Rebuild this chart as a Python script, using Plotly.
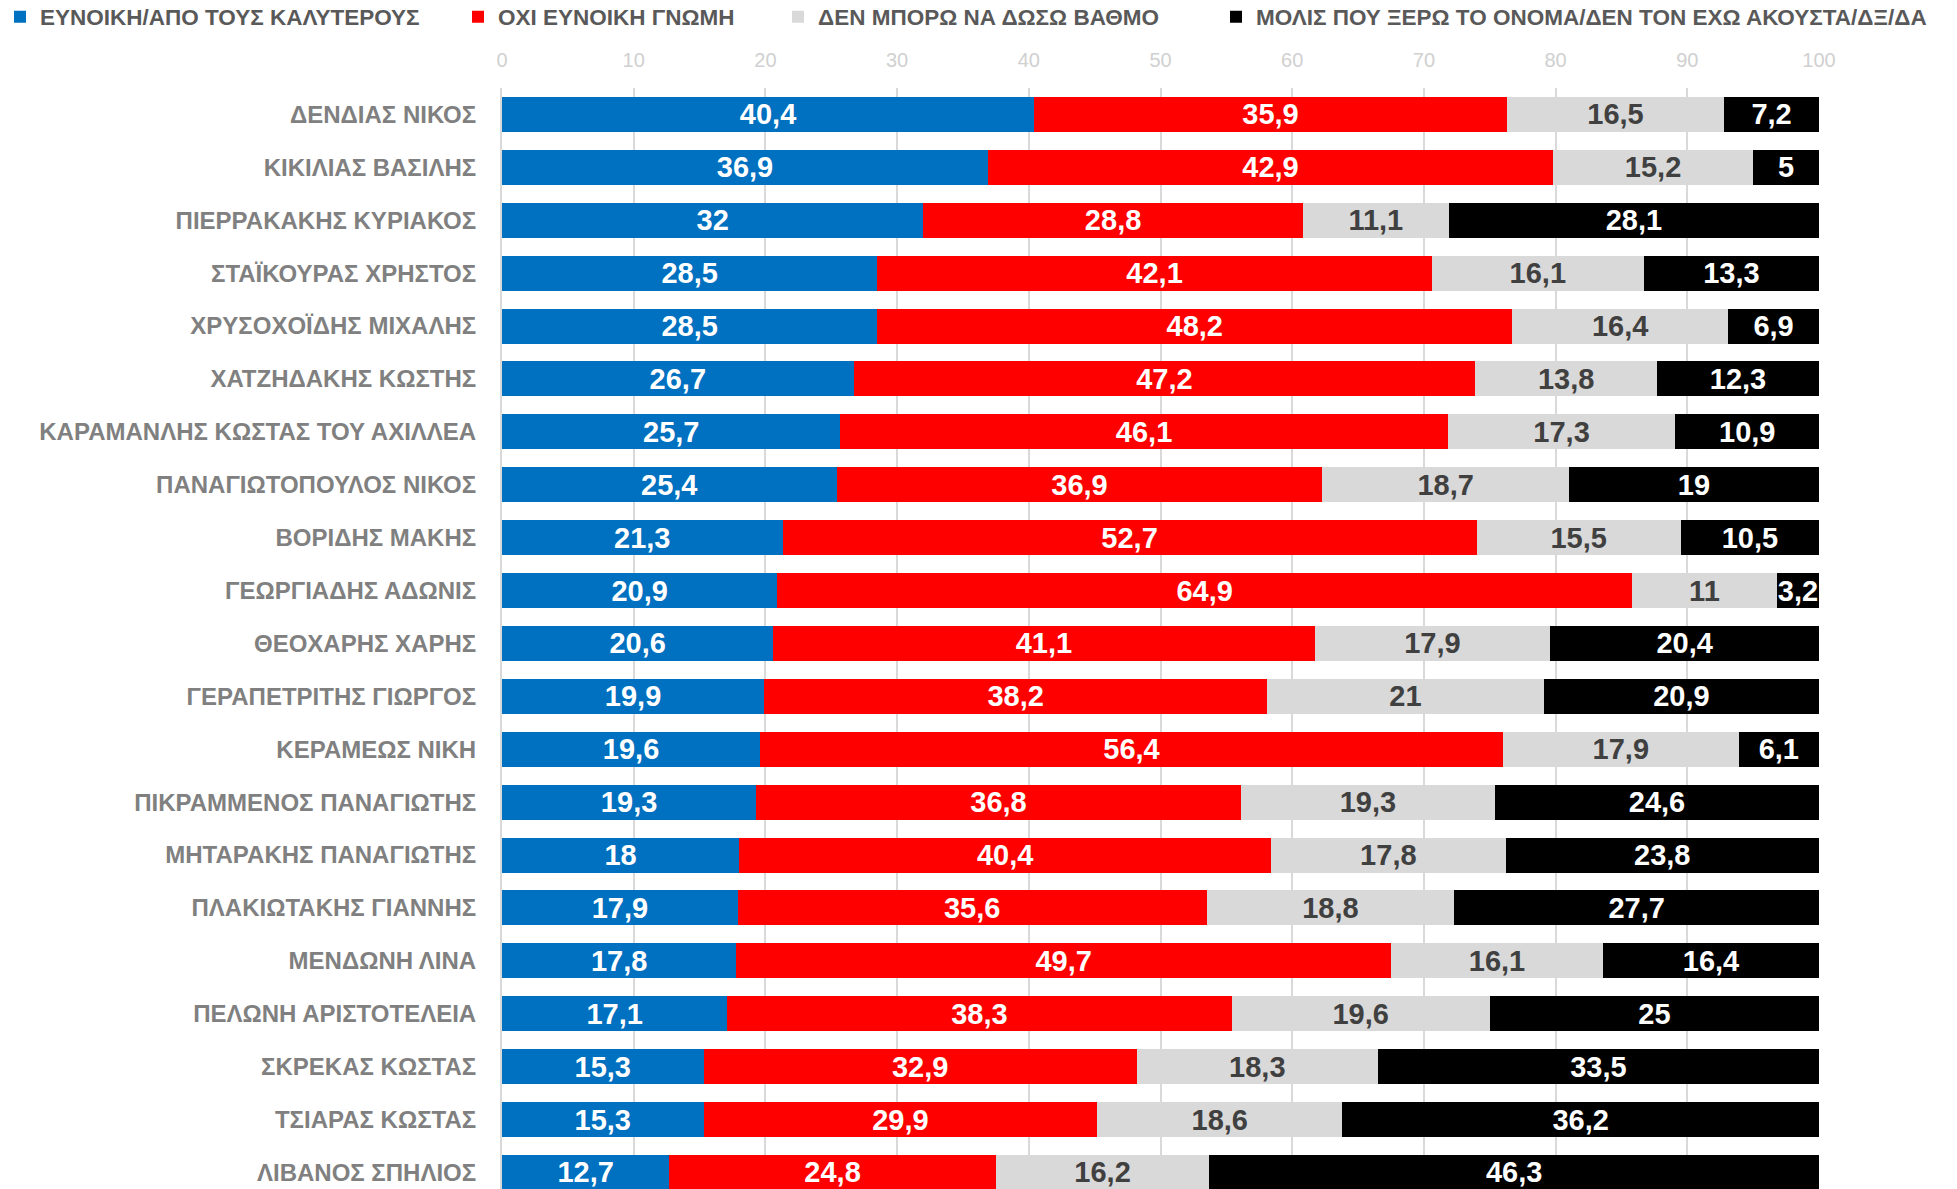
import plotly.graph_objects as go

# Politicians, top to bottom as in the poll chart
names = [
    "ΔΕΝΔΙΑΣ ΝΙΚΟΣ", "ΚΙΚΙΛΙΑΣ ΒΑΣΙΛΗΣ", "ΠΙΕΡΡΑΚΑΚΗΣ ΚΥΡΙΑΚΟΣ", "ΣΤΑΪΚΟΥΡΑΣ ΧΡΗΣΤΟΣ",
    "ΧΡΥΣΟΧΟΪΔΗΣ ΜΙΧΑΛΗΣ", "ΧΑΤΖΗΔΑΚΗΣ ΚΩΣΤΗΣ", "ΚΑΡΑΜΑΝΛΗΣ ΚΩΣΤΑΣ ΤΟΥ ΑΧΙΛΛΕΑ",
    "ΠΑΝΑΓΙΩΤΟΠΟΥΛΟΣ ΝΙΚΟΣ", "ΒΟΡΙΔΗΣ ΜΑΚΗΣ", "ΓΕΩΡΓΙΑΔΗΣ ΑΔΩΝΙΣ", "ΘΕΟΧΑΡΗΣ ΧΑΡΗΣ",
    "ΓΕΡΑΠΕΤΡΙΤΗΣ ΓΙΩΡΓΟΣ", "ΚΕΡΑΜΕΩΣ ΝΙΚΗ", "ΠΙΚΡΑΜΜΕΝΟΣ ΠΑΝΑΓΙΩΤΗΣ",
    "ΜΗΤΑΡΑΚΗΣ ΠΑΝΑΓΙΩΤΗΣ", "ΠΛΑΚΙΩΤΑΚΗΣ ΓΙΑΝΝΗΣ", "ΜΕΝΔΩΝΗ ΛΙΝΑ",
    "ΠΕΛΩΝΗ ΑΡΙΣΤΟΤΕΛΕΙΑ", "ΣΚΡΕΚΑΣ ΚΩΣΤΑΣ", "ΤΣΙΑΡΑΣ ΚΩΣΤΑΣ", "ΛΙΒΑΝΟΣ ΣΠΗΛΙΟΣ",
]

favourable = [40.4, 36.9, 32, 28.5, 28.5, 26.7, 25.7, 25.4, 21.3, 20.9, 20.6,
              19.9, 19.6, 19.3, 18, 17.9, 17.8, 17.1, 15.3, 15.3, 12.7]
unfavourable = [35.9, 42.9, 28.8, 42.1, 48.2, 47.2, 46.1, 36.9, 52.7, 64.9, 41.1,
                38.2, 56.4, 36.8, 40.4, 35.6, 49.7, 38.3, 32.9, 29.9, 24.8]
cant_rate = [16.5, 15.2, 11.1, 16.1, 16.4, 13.8, 17.3, 18.7, 15.5, 11, 17.9,
             21, 17.9, 19.3, 17.8, 18.8, 16.1, 19.6, 18.3, 18.6, 16.2]
barely_know = [7.2, 5, 28.1, 13.3, 6.9, 12.3, 10.9, 19, 10.5, 3.2, 20.4,
               20.9, 6.1, 24.6, 23.8, 27.7, 16.4, 25, 33.5, 36.2, 46.3]

series_names = [
    "ΕΥΝΟΙΚΗ/ΑΠΟ ΤΟΥΣ ΚΑΛΥΤΕΡΟΥΣ",
    "ΟΧΙ ΕΥΝΟΙΚΗ ΓΝΩΜΗ",
    "ΔΕΝ ΜΠΟΡΩ ΝΑ ΔΩΣΩ ΒΑΘΜΟ",
    "ΜΟΛΙΣ ΠΟΥ ΞΕΡΩ ΤΟ ΟΝΟΜΑ/ΔΕΝ ΤΟΝ ΕΧΩ ΑΚΟΥΣΤΑ/ΔΞ/ΔΑ",
]
series_values = [favourable, unfavourable, cant_rate, barely_know]
series_colors = ["#0070c0", "#ff0000", "#d9d9d9", "#000000"]
text_colors = ["white", "white", "#404040", "white"]

W, H = 1957, 1189
LABEL_FONT = "Liberation Sans Narrow, Arial Narrow, Liberation Sans, Arial, sans-serif"
NUM_FONT = "Liberation Sans, Arial, sans-serif"


def fmt(v):
    # greek decimal comma
    return f"{v:g}".replace(".", ",")


fig = go.Figure()

legend_ids = ["legend", "legend2", "legend3", "legend4"]
for name, vals, col, tcol, lg in zip(series_names, series_values, series_colors, text_colors, legend_ids):
    fig.add_trace(go.Bar(
        name=name,
        y=names,
        x=vals,
        orientation="h",
        width=0.66,
        marker=dict(color=col, line=dict(width=0)),
        text=[fmt(v) for v in vals],
        textposition="inside",
        insidetextanchor="middle",
        textangle=0,
        textfont=dict(color=tcol, size=29, family=NUM_FONT, weight="bold"),
        legend=lg,
        hoverinfo="skip",
    ))

# legend text start positions (px) of the four entries along the top
legend_text_x = [36, 500, 820, 1258]
legend_style = dict(
    orientation="h",
    xref="container", yref="container",
    xanchor="left", yanchor="middle",
    y=1 - 17 / H,
    bgcolor="rgba(0,0,0,0)",
    font=dict(family=LABEL_FONT, size=22.5, color="#595959", weight="bold"),
    itemclick=False, itemdoubleclick=False,
)

layout_legends = {}
for lg, tx in zip(legend_ids, legend_text_x):
    layout_legends[lg] = dict(legend_style, x=max(tx - 42, 0) / W)

# plot area in pixels
x_left, x_right, plot_top = 502, 1819, 88
# category slot ~52.9 px; last row cut off by the bottom edge, as in the picture
slot = 52.9
y_bottom = -0.5 + (H - plot_top) / slot

fig.update_layout(
    width=W, height=H,
    barmode="stack",
    plot_bgcolor="white",
    paper_bgcolor="white",
    margin=dict(l=x_left, r=W - x_right, t=plot_top, b=0, autoexpand=False),
    uniformtext=dict(minsize=29, mode="show"),
    showlegend=True,
    xaxis=dict(
        side="top",
        range=[0, 100],
        dtick=10,
        showgrid=True,
        gridcolor="#d9d9d9",
        gridwidth=2,
        zeroline=False,
        showline=False,
        tickfont=dict(family=NUM_FONT, size=20, color="#d0d0d0"),
        ticklabelstandoff=16,
        fixedrange=True,
    ),
    yaxis=dict(
        categoryorder="array",
        categoryarray=names,
        range=[y_bottom, -0.5],
        showgrid=False,
        showline=True,
        linecolor="#d9d9d9",
        linewidth=2,
        tickfont=dict(family=LABEL_FONT, size=24, color="#808080", weight="bold"),
        ticklabelstandoff=19,
        fixedrange=True,
    ),
    **layout_legends,
)

# drop the page's default 8px body margin so the figure fills the window
fig.write_html(
    "out.html",
    config={"displayModeBar": False},
    post_script="document.body.style.margin = '0';",
)
